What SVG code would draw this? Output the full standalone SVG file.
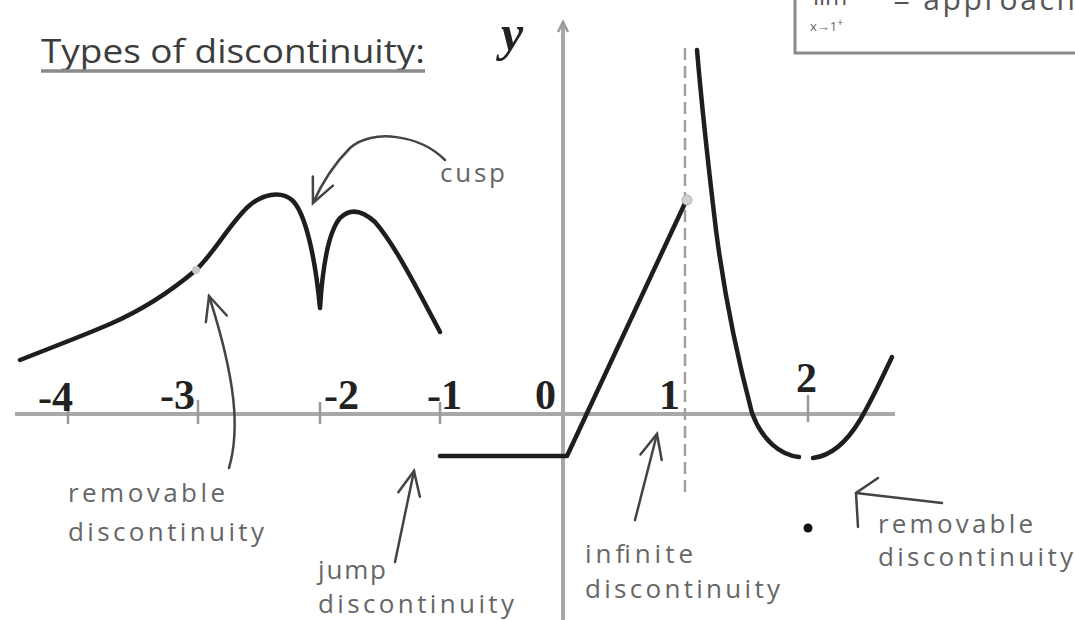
<svg xmlns="http://www.w3.org/2000/svg" width="1075" height="620" viewBox="0 0 1075 620">
<style>
.note{font-family:"Open Sans","Liberation Sans",sans-serif;font-size:26px;fill:#666}
.num{font-family:"Liberation Serif",serif;font-weight:bold;font-size:42px;fill:#222}
.axis{stroke:#a8a8a8;stroke-width:4;fill:none}
.tick{stroke:#999;stroke-width:2.5}
.curve{stroke:#1e1e1e;stroke-width:4.5;fill:none;stroke-linecap:round;stroke-linejoin:round}
.ann{stroke:#444;stroke-width:2.5;fill:none;stroke-linecap:round}
</style>
<defs>
<marker id="ah" viewBox="-30 -20 40 40" markerWidth="40" markerHeight="40" refX="0" refY="0" orient="auto" markerUnits="userSpaceOnUse">
<path d="M-24,-11 L0,0 L-24,11" fill="none" stroke="#444" stroke-width="2.5" stroke-linecap="round"/>
</marker>
<marker id="ax" viewBox="-12 -8 16 16" markerWidth="16" markerHeight="16" refX="0" refY="0" orient="auto" markerUnits="userSpaceOnUse">
<path d="M-10,-5 L0,0 L-10,5" fill="none" stroke="#999" stroke-width="2.5"/>
</marker>
</defs>
<rect width="1075" height="620" fill="#fff"/>

<g id="legend-box">
<rect x="795" y="-10" width="290" height="63" fill="#fff" stroke="#8a8a8a" stroke-width="3"/>
<text x="813" y="5" font-family="Open Sans, Liberation Sans, sans-serif" font-size="24" fill="#555">lim</text>
<text x="893" y="10" font-family="Open Sans, Liberation Sans, sans-serif" font-size="30" fill="#555" textLength="182">= approach</text>
<text x="810" y="31" font-family="Open Sans, Liberation Sans, sans-serif" font-size="13" fill="#666">x→1<tspan dy="-5" font-size="10">+</tspan></text>
</g>

<g id="title">
<text x="41" y="63" font-family="Open Sans, Liberation Sans, sans-serif" font-size="32" fill="#3c3c3c" textLength="384" lengthAdjust="spacingAndGlyphs">Types of discontinuity:</text>
<line x1="41" y1="71" x2="425" y2="71" stroke="#8a8a8a" stroke-width="3.5"/>
</g>

<g id="axes">
<line class="axis" x1="15" y1="414" x2="895" y2="414"/>
<line class="axis" x1="563" y1="620" x2="563" y2="22" marker-end="url(#ax)"/>
<text x="501" y="50" font-family="Liberation Serif, serif" font-style="italic" font-weight="bold" font-size="50" fill="#222">y</text>
<line class="tick" x1="68" y1="402" x2="68" y2="424"/>
<line class="tick" x1="198" y1="400" x2="198" y2="424"/>
<line class="tick" x1="320" y1="402" x2="320" y2="424"/>
<line class="tick" x1="440" y1="402" x2="440" y2="424"/>
<line class="tick" x1="808" y1="395" x2="808" y2="422"/>
<text class="num" x="38" y="411">-4</text>
<text class="num" x="160" y="409">-3</text>
<text class="num" x="324" y="409">-2</text>
<text class="num" x="427" y="409">-1</text>
<text class="num" x="535" y="409">0</text>
<text class="num" x="659" y="409">1</text>
<text class="num" x="796" y="392" font-size="30">2</text>
</g>

<g id="asymptote">
<line x1="685" y1="48" x2="685" y2="495" stroke="#a0a0a0" stroke-width="2.5" stroke-dasharray="12 6"/>
</g>

<g id="left-curve">
<path class="curve" d="M20,360 C50,348 80,337 110,324 C140,311 170,292 196,270 C215,252 232,220 250,205 C262,195 280,190 292,200 C305,212 315,255 320,308 C323,260 330,230 340,218 C350,208 362,210 375,222 C395,245 418,290 440,332"/>
<circle cx="196" cy="270" r="4" fill="#c8c8c8"/>
</g>

<g id="step-line">
<path class="curve" d="M440,456 L567,456 L686,201"/>
<circle cx="687" cy="200" r="5" fill="#d0d0d0" stroke="#b0b0b0" stroke-width="1"/>
</g>

<g id="right-curve">
<path class="curve" d="M697,50 C703,120 710,180 716,230 C725,300 738,360 752,413 C762,440 780,455 799,457"/>
<path class="curve" d="M813,458 C830,456 845,445 860,420 C872,400 882,378 892,357"/>
<circle cx="808" cy="528" r="4.5" fill="#111"/>
</g>

<g id="connectors">
<path class="ann" d="M445,160 C420,135 372,128 350,148 C336,162 322,183 313,203" marker-end="url(#ah)"/>
<path class="ann" d="M229,468 C240,430 236,380 209,296" marker-end="url(#ah)"/>
<path class="ann" d="M395,562 L414,471" marker-end="url(#ah)"/>
<path class="ann" d="M635,520 L657,434" marker-end="url(#ah)"/>
<path class="ann" d="M942,503 L856,493"/>
<path class="ann" d="M878,478 L856,493 L858,527"/>
</g>

<g id="labels">
<text class="note" x="440" y="182" textLength="65">cusp</text>
<text class="note" x="68" y="502" textLength="157">removable</text>
<text class="note" x="68" y="541" textLength="196">discontinuity</text>
<text class="note" x="318" y="579" textLength="68">jump</text>
<text class="note" x="318" y="613" textLength="196">discontinuity</text>
<text class="note" x="585" y="563" textLength="108">infinite</text>
<text class="note" x="585" y="598" textLength="195">discontinuity</text>
<text class="note" x="878" y="533" textLength="155">removable</text>
<text class="note" x="878" y="566" textLength="195">discontinuity</text>
</g>
</svg>
